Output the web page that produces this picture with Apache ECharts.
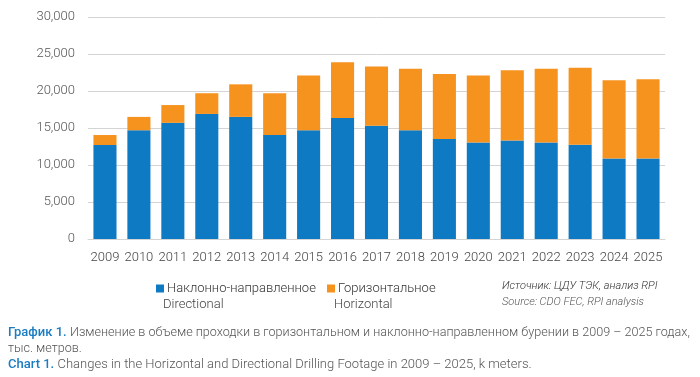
<!DOCTYPE html>
<html>
<head>
<meta charset="utf-8">
<script src="https://cdn.jsdelivr.net/npm/echarts@6/dist/echarts.min.js"></script>
<style>html,body{margin:0;padding:0;background:#fff;}#c{width:700px;height:377px;}</style>
</head>
<body>
<div id="c"></div>
<script>
var years = ['2009','2010','2011','2012','2013','2014','2015','2016','2017','2018','2019','2020','2021','2022','2023','2024','2025'];
var directional = [12700,14700,15700,16900,16500,14050,14700,16350,15300,14700,13500,13050,13300,13050,12750,10870,10870];
var horizontal = [1350,1800,2400,2800,4400,5650,7400,7550,8000,8300,8800,9050,9500,9950,10400,10580,10730];
var yTicks = [0,5000,10000,15000,20000,25000,30000];
var seriesNames = ['Наклонно-направленное','Горизонтальное'];
var seriesNamesEn = ['Directional','Horizontal'];

var FONT = 'Roboto';
var chart = echarts.init(document.getElementById('c'), null, {renderer:'canvas'});
function fmt(v){return String(v).replace(/\B(?=(\d{3})+(?!\d))/g, ',');}
chart.setOption({
  animation:false,
  grid:{left:88,right:35,top:17,bottom:138},
  legend:[
    {left:151,top:277,itemWidth:8,itemHeight:8,itemGap:10,icon:'rect',data:[seriesNames[0]],
     textStyle:{fontFamily:FONT,fontWeight:300,fontSize:13,color:'#333',padding:[0,0,0,-2]}},
    {left:322,top:277,itemWidth:8,itemHeight:8,itemGap:10,icon:'rect',data:[seriesNames[1]],
     textStyle:{fontFamily:FONT,fontWeight:300,fontSize:13,color:'#333',padding:[0,0,0,-2]}}
  ],
  xAxis:{type:'category',data:years,
    axisLine:{lineStyle:{color:'#d4d4d4'}},axisTick:{show:false},
    axisLabel:{interval:0,hideOverlap:false,fontFamily:FONT,fontWeight:300,fontSize:13,color:'#444',margin:12}},
  yAxis:{type:'value',min:0,max:30000,interval:5000,
    axisLine:{show:false},axisTick:{show:false},
    splitLine:{lineStyle:{color:'#d4d4d4'}},
    axisLabel:{fontFamily:FONT,fontWeight:300,fontSize:13,color:'#555',margin:13,
      formatter:function(v){return yTicks.indexOf(v)>=0?fmt(v):'';}}},
  series:[
    {name:seriesNames[0],type:'bar',stack:'t',data:directional,barWidth:'68%',itemStyle:{color:'#0e7ac3'}},
    {name:seriesNames[1],type:'bar',stack:'t',data:horizontal,barWidth:'68%',itemStyle:{color:'#f6921e'}}
  ],
  graphic:[
    {type:'text',left:163,top:298,style:{text:seriesNamesEn[0],font:'300 13px '+FONT,fill:'#444'}},
    {type:'text',left:334,top:298,style:{text:seriesNamesEn[1],font:'300 13px '+FONT,fill:'#444'}},
    {type:'text',left:502,top:281,style:{text:'Источник: ЦДУ ТЭК, анализ RPI',font:'italic 300 11px '+FONT,fill:'#333'}},
    {type:'text',left:502,top:297,style:{text:'Source: CDO FEC, RPI analysis',font:'italic 300 11px '+FONT,fill:'#555'}},
    {type:'text',left:8,top:326,style:{
      text:'{b|График 1.} {n|Изменение в объеме проходки в горизонтальном и наклонно-направленном бурении в 2009 – 2025 годах,}',
      rich:{b:{fontFamily:FONT,fontWeight:500,fontSize:13,fill:'#1a7cc1',color:'#1a7cc1'},
            n:{fontFamily:FONT,fontWeight:300,fontSize:12.6,fill:'#555',color:'#555'}}}},
    {type:'text',left:8,top:342,style:{text:'тыс. метров.',font:'300 12.6px '+FONT,fill:'#555'}},
    {type:'text',left:8,top:358,style:{
      text:'{b|Chart 1.} {n|Changes in the Horizontal and Directional Drilling Footage in 2009 – 2025, k meters.}',
      rich:{b:{fontFamily:FONT,fontWeight:500,fontSize:13,fill:'#1a7cc1',color:'#1a7cc1'},
            n:{fontFamily:FONT,fontWeight:300,fontSize:13,fill:'#555',color:'#555'}}}}
  ]
});
</script>
</body>
</html>
